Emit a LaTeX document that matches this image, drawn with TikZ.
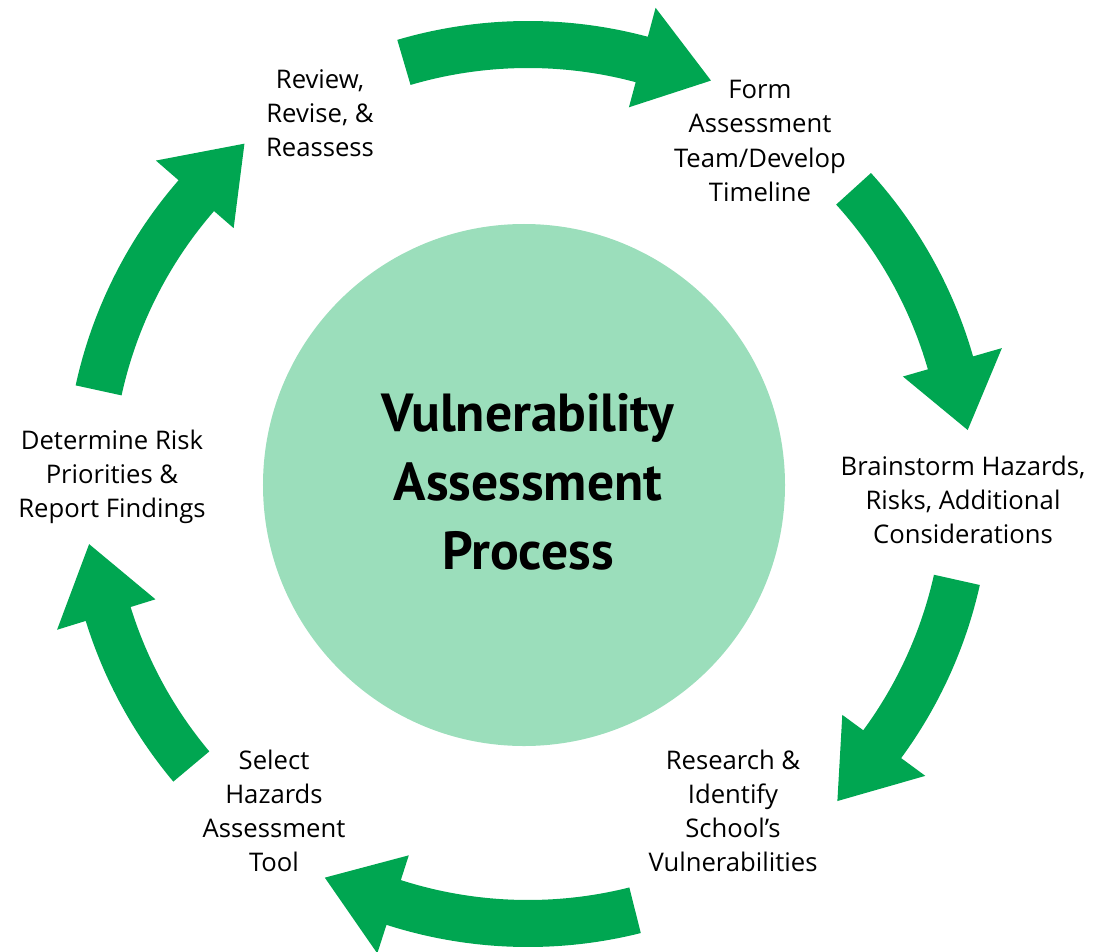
\documentclass[tikz,border=0pt]{standalone}
\usepackage{fontspec}
\setmainfont{PT Sans}
\newfontfamily\labelfont{Open Sans}
\usepackage{tikz}
\usepackage{color}

\definecolor{arrowgreen}{RGB}{0,166,81}
\definecolor{hubgreen}{RGB}{155,222,187}

\tikzset{
  stage arrow/.style={fill=arrowgreen, draw=none},
  stage text/.style={align=center, font=\labelfont\fontsize{14.6}{19.4}\selectfont},
}

\begin{document}
\begin{tikzpicture}
% Drawing frame
\useasboundingbox (-10.56,-9.34) rectangle (11.42,9.68);

% Drawing centre circle
\fill[hubgreen] (-0.08,-0.02) circle (5.22cm);
\node[align=center, font=\bfseries\fontsize{30.5}{39.3}\selectfont] (title) at (0,0.04) {Vulnerability\\Assessment\\Process};

% Drawing arrows
\fill[stage arrow] (106.4:9.26) arc[start angle=106.4, end angle=75, radius=9.26] -- (75:9.86) -- (65.6:8.86) -- (75:7.8) -- (75:8.32) arc[start angle=75, end angle=106.4, radius=8.32] -- cycle;
\fill[stage arrow] (42.2:9.26) arc[start angle=42.2, end angle=16, radius=9.26] -- (16:9.86) -- (7:8.86) -- (16:7.8) -- (16:8.32) arc[start angle=16, end angle=42.2, radius=8.32] -- cycle;
\fill[stage arrow] (-12.6:9.26) arc[start angle=-12.6, end angle=-36.3, radius=9.26] -- (-36.3:9.86) -- (-45.7:8.86) -- (-36.3:7.8) -- (-36.3:8.32) arc[start angle=-36.3, end angle=-12.6, radius=8.32] -- cycle;
\fill[stage arrow] (-75.9:9.26) arc[start angle=-75.9, end angle=-107.8, radius=9.26] -- (-107.8:9.86) -- (-117.3:8.86) -- (-107.8:7.8) -- (-107.8:8.32) arc[start angle=-107.8, end angle=-75.9, radius=8.32] -- cycle;
\fill[stage arrow] (-140:9.26) arc[start angle=-140, end angle=-162.8, radius=9.26] -- (-162.8:9.86) -- (-172.2:8.86) -- (-162.8:7.8) -- (-162.8:8.32) arc[start angle=-162.8, end angle=-140, radius=8.32] -- cycle;
\fill[stage arrow] (167.7:9.26) arc[start angle=167.7, end angle=139, radius=9.26] -- (139:9.86) -- (129.8:8.86) -- (139:7.8) -- (139:8.32) arc[start angle=139, end angle=167.7, radius=8.32] -- cycle;

% Drawing stage labels
\node[stage text] (review) at (-4.16,7.42) {Review,\\Revise, \&\\Reassess};
\node[stage text] (form) at (4.64,6.86) {Form\\Assessment\\Team/Develop\\Timeline};
\node[stage text] (brainstorm) at (8.70,-0.32) {Brainstorm Hazards,\\Risks, Additional\\Considerations};
\node[stage text] (research) at (4.10,-6.54) {Research \&\\Identify\\School’s\\Vulnerabilities};
\node[stage text] (select) at (-5.08,-6.54) {Select\\Hazards\\Assessment\\Tool};
\node[stage text] (determine) at (-8.32,0.14) {Determine Risk\\Priorities \&\\Report Findings};
\end{tikzpicture}
\end{document}
